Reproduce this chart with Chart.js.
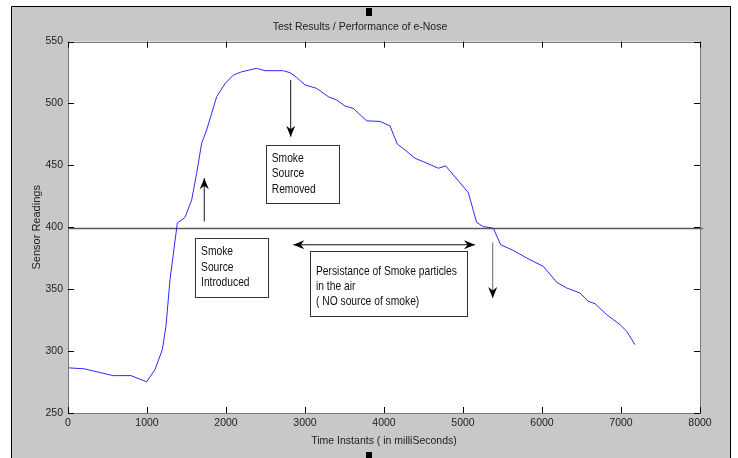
<!DOCTYPE html>
<html>
<head>
<meta charset="utf-8">
<script src="https://cdn.jsdelivr.net/npm/chart.js@4/dist/chart.umd.min.js"></script>
<style>
  html, body { margin: 0; padding: 0; background: #ffffff; }
  #wrap { width: 738px; height: 458px; }
</style>
</head>
<body>
<div id="wrap"><canvas id="c" width="738" height="458"></canvas></div>
<script>
// ---- data ----
const times = [0, 203, 573, 797, 996, 1101, 1194, 1240, 1291, 1384, 1481, 1565, 1629, 1692, 1755, 1882, 1987, 2093, 2198, 2388, 2494, 2726, 2810, 2894, 3000, 3148, 3295, 3401, 3506, 3612, 3781, 3949, 4076, 4168, 4266, 4392, 4498, 4688, 4781, 4877, 5067, 5173, 5257, 5384, 5477, 5637, 5806, 6017, 6186, 6312, 6481, 6586, 6671, 6819, 6987, 7072, 7177];
const readings = [286.5, 285.7, 280.2, 280.2, 275.2, 285, 301.2, 320, 357.7, 403.4, 408, 422, 443.7, 468, 478.6, 505.5, 516, 523, 525.6, 528.4, 526.5, 526.5, 524.9, 521, 515, 512.2, 505.5, 502.8, 498, 496, 486, 485.5, 481.9, 467.3, 462.5, 455.8, 453, 447.7, 449.6, 442.3, 428, 403.9, 400.6, 399.3, 385.9, 381.3, 375.2, 368.4, 355.6, 351, 346.9, 340.2, 338.3, 329.4, 321.4, 316, 305.2];
const thresholdTimes = [0, 8040];
const thresholdValues = [399, 399];
const xTicks = [0, 1000, 2000, 3000, 4000, 5000, 6000, 7000, 8000];
const yTicks = [250, 300, 350, 400, 450, 500, 550];
const chartTitle = 'Test Results / Performance of e-Nose';
const xTitle = 'Time Instants ( in milliSeconds)';
const yTitle = 'Sensor Readings';
const noteRemoved = ['Smoke', 'Source', 'Removed'];
const noteIntroduced = ['Smoke', 'Source', 'Introduced'];
const notePersist = ['Persistance of Smoke particles', 'in the air', '( NO source of smoke)'];

const FONT = "'Liberation Sans', Arial, Helvetica, sans-serif";

function pts(xs, ys) { return xs.map((x, i) => ({x: x, y: ys[i]})); }

function arrow(ctx, x1, y1, x2, y2, lineColor) {
  ctx.save();
  ctx.strokeStyle = lineColor;
  ctx.lineWidth = 1;
  ctx.beginPath();
  ctx.moveTo(x1, y1);
  ctx.lineTo(x2, y2);
  ctx.stroke();
  const ang = Math.atan2(y2 - y1, x2 - x1);
  const L = 11, W = 4.5, B = 3.5;
  ctx.translate(x2, y2);
  ctx.rotate(ang);
  ctx.fillStyle = '#000';
  ctx.beginPath();
  ctx.moveTo(0, 0);
  ctx.lineTo(-L, -W);
  ctx.lineTo(-L + B, 0);
  ctx.lineTo(-L, W);
  ctx.closePath();
  ctx.fill();
  ctx.restore();
}

function textBox(ctx, x, y, w, h, lines, padX, firstY, lineGap) {
  ctx.save();
  ctx.fillStyle = '#fff';
  ctx.fillRect(x, y, w, h);
  ctx.strokeStyle = '#333';
  ctx.lineWidth = 1;
  ctx.strokeRect(Math.round(x) + 0.5, Math.round(y) + 0.5, Math.round(w), Math.round(h));
  ctx.fillStyle = '#111';
  ctx.font = '13px ' + FONT;
  ctx.textBaseline = 'middle';
  ctx.textAlign = 'left';
  const sx = 0.79;
  lines.forEach((t, i) => {
    ctx.save();
    ctx.translate(x + padX, y + firstY + i * lineGap);
    ctx.scale(sx, 1);
    ctx.fillText(t, 0, 0);
    ctx.restore();
  });
  ctx.restore();
}

const framePlugin = {
  id: 'frame',
  beforeDraw(chart) {
    const ctx = chart.ctx;
    const a = chart.chartArea;
    ctx.save();
    ctx.fillStyle = '#ffffff';
    ctx.fillRect(0, 0, 738, 458);
    ctx.fillStyle = '#c8c8c8';
    ctx.fillRect(11, 6, 720, 452);
    ctx.strokeStyle = '#000';
    ctx.lineWidth = 1;
    ctx.beginPath();
    ctx.moveTo(11.5, 460); ctx.lineTo(11.5, 6.5); ctx.lineTo(730.5, 6.5); ctx.lineTo(730.5, 460);
    ctx.stroke();
    ctx.fillStyle = '#fff';
    ctx.fillRect(a.left, a.top, a.right - a.left, a.bottom - a.top);
    // selection handles
    ctx.fillStyle = '#000';
    ctx.fillRect(366, 8, 6, 8);
    ctx.fillRect(366, 452, 6, 6);
    ctx.restore();
  },
  afterDatasetsDraw(chart) {
    const ctx = chart.ctx;
    const a = chart.chartArea;
    const xs = chart.scales.x, ys = chart.scales.y;
    // axes box
    ctx.save();
    ctx.strokeStyle = '#7a7a7a';
    ctx.lineWidth = 1;
    ctx.strokeRect(Math.round(a.left) + 0.5, Math.round(a.top) + 0.5, Math.round(a.right - a.left), Math.round(a.bottom - a.top));
    // inward ticks
    ctx.strokeStyle = '#000';
    ctx.beginPath();
    const tl = 6;
    xTicks.forEach(v => {
      const px = Math.round(xs.getPixelForValue(v)) + 0.5;
      ctx.moveTo(px, a.bottom); ctx.lineTo(px, a.bottom - tl);
      ctx.moveTo(px, a.top); ctx.lineTo(px, a.top + tl);
    });
    yTicks.forEach(v => {
      const py = Math.round(ys.getPixelForValue(v)) + 0.5;
      ctx.moveTo(a.left, py); ctx.lineTo(a.left + tl, py);
      ctx.moveTo(a.right, py); ctx.lineTo(a.right - tl, py);
    });
    ctx.stroke();
    ctx.restore();

    const X = v => xs.getPixelForValue(v);
    const Y = v => ys.getPixelForValue(v);
    // annotation boxes
    textBox(ctx, X(2503), Y(466.5), X(3430) - X(2503), Y(419.5) - Y(466.5), noteRemoved, 6, 13, 15.5);
    textBox(ctx, X(1608), Y(391.3), X(2535) - X(1608), Y(343.7) - Y(391.3), noteIntroduced, 6, 13.5, 15.5);
    textBox(ctx, X(3063), Y(380.5), X(5054) - X(3063), Y(328) - Y(380.5), notePersist, 6, 20, 15);
    // arrows
    arrow(ctx, X(1725), Y(404.7), X(1725), Y(439.7), '#111');
    arrow(ctx, X(2819), Y(519), X(2819), Y(473.2), '#111');
    arrow(ctx, X(4000), Y(385.9), X(2852), Y(385.9), '#111');
    arrow(ctx, X(4000), Y(385.9), X(5152), Y(385.9), '#111');
    arrow(ctx, X(5376), Y(387.7), X(5376), Y(342.9), '#666');
  }
};

const tickFont = {family: FONT, size: 10.5};

new Chart(document.getElementById('c'), {
  type: 'line',
  data: {
    datasets: [
      {
        label: 'Sensor',
        data: pts(times, readings),
        borderColor: '#2a2aff',
        borderWidth: 1,
        pointRadius: 0,
        tension: 0,
        fill: false
      },
      {
        label: 'Threshold',
        data: pts(thresholdTimes, thresholdValues),
        borderColor: '#5a5a5a',
        borderWidth: 1.6,
        pointRadius: 0,
        tension: 0,
        fill: false,
        clip: {left: 0, top: 0, right: 4, bottom: 0}
      }
    ]
  },
  options: {
    responsive: false,
    animation: false,
    events: [],
    layout: {padding: {left: 20, right: 38, top: 0, bottom: 8}},
    plugins: {
      legend: {display: false},
      tooltip: {enabled: false},
      title: {
        display: true,
        text: chartTitle,
        color: '#222',
        font: {family: FONT, size: 10.5, weight: 'normal'},
        padding: {top: 21, bottom: 8}
      }
    },
    scales: {
      x: {
        type: 'linear',
        min: 0, max: 8000,
        afterBuildTicks: s => { s.ticks = xTicks.map(v => ({value: v})); },
        ticks: {font: tickFont, color: '#222', padding: 4, maxRotation: 0, autoSkip: false, callback: v => String(v)},
        grid: {display: false, drawTicks: false},
        border: {display: false},
        title: {display: true, text: xTitle, color: '#222', font: {family: FONT, size: 10.5}, padding: {top: 0, bottom: 3}},
        afterFit: s => { s.height = 37; }
      },
      y: {
        type: 'linear',
        min: 250, max: 550,
        afterBuildTicks: s => { s.ticks = yTicks.map(v => ({value: v})); },
        ticks: {font: tickFont, color: '#222', padding: 5, autoSkip: false, callback: v => String(v)},
        grid: {display: false, drawTicks: false},
        border: {display: false},
        title: {display: true, text: yTitle, color: '#222', font: {family: FONT, size: 11}, padding: {top: 10, bottom: 0}},
        afterFit: s => { s.width = 48; }
      }
    }
  },
  plugins: [framePlugin]
});
</script>
</body>
</html>
